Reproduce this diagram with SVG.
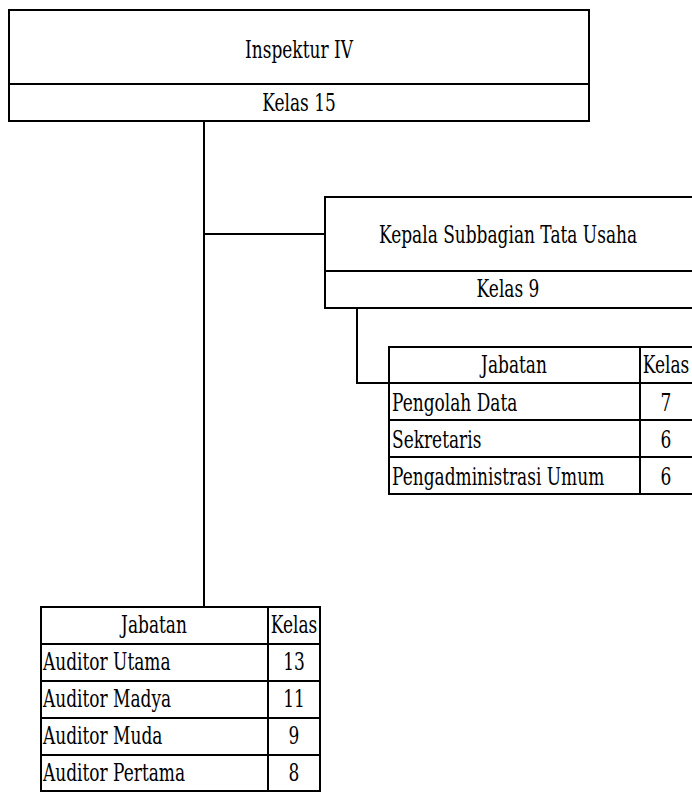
<svg xmlns="http://www.w3.org/2000/svg" width="692" height="792" viewBox="0 0 692 792">
<style>
.b{fill:#fff;stroke:#000;stroke-width:2}
.l{fill:none;stroke:#000;stroke-width:2}
text{font-family:'DejaVu Serif','Liberation Serif',serif;font-size:25px;fill:#000}
.c{text-anchor:middle}
</style>
<rect width="692" height="792" fill="#fff"/>
<g id="connectors">
<path class="l" d="M204,121 V607 M204,234 H325 M357,308 V383 H389"/>
</g>
<g id="inspektur">
<rect class="b" x="9" y="10" width="580" height="111"/>
<line class="l" x1="9" y1="84" x2="589" y2="84"/>
<text class="c" transform="translate(299,58) scale(0.68,1)">Inspektur IV</text>
<text class="c" transform="translate(299,111) scale(0.68,1)">Kelas 15</text>
</g>
<g id="kasubbag">
<rect class="b" x="325" y="197" width="370" height="111"/>
<line class="l" x1="325" y1="271" x2="695" y2="271"/>
<text class="c" transform="translate(508,243) scale(0.68,1)">Kepala Subbagian Tata Usaha</text>
<text class="c" transform="translate(508,297) scale(0.68,1)">Kelas 9</text>
</g>
<g id="tabel-tu">
<rect class="b" x="389" y="347" width="304" height="147"/>
<path class="l" d="M389,383 H693 M389,420 H693 M389,457 H693 M640,347 V494"/>
<text class="c" transform="translate(514,373) scale(0.68,1)">Jabatan</text>
<text class="c" transform="translate(666,373) scale(0.68,1)">Kelas</text>
<text transform="translate(392,411) scale(0.68,1)">Pengolah Data</text>
<text class="c" transform="translate(666,411) scale(0.68,1)">7</text>
<text transform="translate(392,448) scale(0.68,1)">Sekretaris</text>
<text class="c" transform="translate(666,448) scale(0.68,1)">6</text>
<text transform="translate(392,485) scale(0.68,1)">Pengadministrasi Umum</text>
<text class="c" transform="translate(666,485) scale(0.68,1)">6</text>
</g>
<g id="tabel-auditor">
<rect class="b" x="41" y="607" width="279" height="184"/>
<path class="l" d="M41,644 H320 M41,681 H320 M41,718 H320 M41,755 H320 M268,607 V791"/>
<text class="c" transform="translate(154,633) scale(0.68,1)">Jabatan</text>
<text class="c" transform="translate(294,633) scale(0.68,1)">Kelas</text>
<text transform="translate(43,670) scale(0.68,1)">Auditor Utama</text>
<text class="c" transform="translate(294,670) scale(0.68,1)">13</text>
<text transform="translate(43,707) scale(0.68,1)">Auditor Madya</text>
<text class="c" transform="translate(294,707) scale(0.68,1)">11</text>
<text transform="translate(43,744) scale(0.68,1)">Auditor Muda</text>
<text class="c" transform="translate(294,744) scale(0.68,1)">9</text>
<text transform="translate(43,781) scale(0.68,1)">Auditor Pertama</text>
<text class="c" transform="translate(294,781) scale(0.68,1)">8</text>
</g>
</svg>
